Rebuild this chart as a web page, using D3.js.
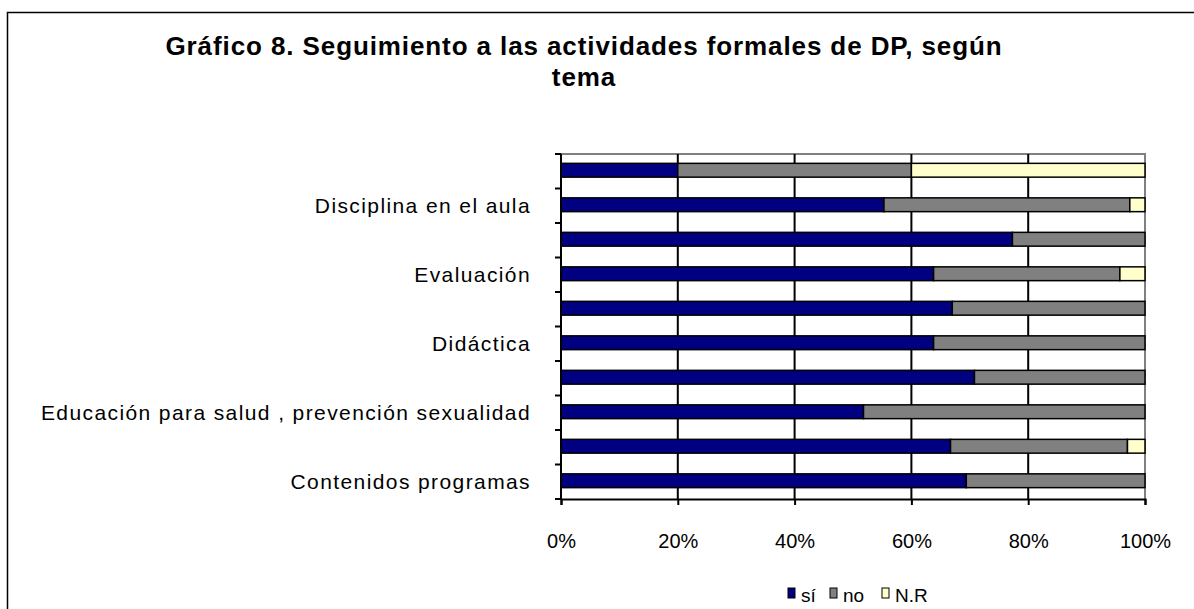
<!DOCTYPE html>
<html><head><meta charset="utf-8">
<script src="https://cdn.jsdelivr.net/npm/d3@7"></script>
<style>body{margin:0;background:#fff;} text{font-family:"Liberation Sans",Arial,sans-serif;}</style>
</head><body>
<svg id="chart" width="1194" height="609"></svg>
<script>
// Categories top to bottom (only every other one is labelled in the original)
const categories = ["", "Disciplina en el aula", "", "Evaluación", "", "Didáctica", "", "Educación para salud , prevención sexualidad", "", "Contenidos programas"];
const siValues = [20.0, 55.3, 77.3, 63.8, 67.0, 63.8, 70.8, 51.8, 66.7, 69.4];
const noValues = [40.0, 42.1, 22.7, 31.9, 33.0, 36.2, 29.2, 48.2, 30.3, 30.6];
const nrValues = [40.0, 2.6, 0.0, 4.3, 0.0, 0.0, 0.0, 0.0, 3.0, 0.0];
const seriesNames = ["sí", "no", "N.R"];
const seriesColors = ["#000080", "#808080", "#FFFFCC"];
const xTicks = [0, 20, 40, 60, 80, 100];
const titleLines = ["Gráfico 8. Seguimiento a las actividades formales de DP, según", "tema"];

(function () {
const svg = d3.select("#chart");
// outer frame
svg.append("rect").attr("x", 7.5).attr("y", 12.5).attr("width", 1300).attr("height", 700)
  .attr("fill", "none").attr("stroke", "#000").attr("stroke-width", 1.5);

const pL = 561, pR = 1145, pT = 154, pB = 499;
const x = d3.scaleLinear().domain([0, 100]).range([pL, pR]);
const y = d3.scaleBand().domain(d3.range(categories.length)).range([pT, pB]).paddingInner(0.6).paddingOuter(0.3);

// plot area border (gray top/right)
svg.append("path").attr("d", `M${pL},${pT}H${pR}V${pB}`).attr("fill", "none")
  .attr("stroke", "#808080").attr("stroke-width", 2);

// gridlines
svg.append("g").selectAll("line").data(xTicks.filter(t => t > 0 && t < 100)).join("line")
  .attr("x1", d => x(d)).attr("x2", d => x(d)).attr("y1", pT).attr("y2", pB)
  .attr("stroke", "#000").attr("stroke-width", 2);

// stacked data
const rows = categories.map((c, i) => ({i, "sí": siValues[i], "no": noValues[i], "N.R": nrValues[i]}));
const stack = d3.stack().keys(seriesNames)(rows);
const g = svg.append("g");
stack.forEach((layer, si) => {
  g.selectAll(null).data(layer.filter(d => d[1] - d[0] > 0)).join("rect")
    .attr("x", d => x(d[0])).attr("width", d => x(d[1]) - x(d[0]))
    .attr("y", d => y(d.data.i) - 1).attr("height", y.bandwidth())
    .attr("fill", seriesColors[si]).attr("stroke", "#000").attr("stroke-width", 1.5);
});

// x axis
const xAxis = svg.append("g").attr("transform", `translate(0,${pB})`)
  .call(d3.axisBottom(x).tickValues(xTicks).tickFormat(d => d + "%").tickSize(6));
xAxis.select(".domain").attr("stroke", "#000").attr("stroke-width", 2);
xAxis.selectAll(".tick line").attr("stroke", "#000").attr("stroke-width", 2);
xAxis.selectAll("text").attr("y", 49).attr("dy", null).attr("font-size", 20).attr("fill", "#000")
  .style("font-family", "Liberation Sans, Arial, sans-serif");

// y axis
const yStep = (pB - pT) / categories.length;
const yAxisG = svg.append("g");
yAxisG.append("line").attr("x1", pL).attr("x2", pL).attr("y1", pT).attr("y2", pB).attr("stroke", "#000").attr("stroke-width", 2);
yAxisG.selectAll("line.tk").data(d3.range(categories.length + 1)).join("line").attr("class", "tk")
  .attr("x1", pL - 6).attr("x2", pL).attr("y1", d => pT + d * yStep).attr("y2", d => pT + d * yStep)
  .attr("stroke", "#000").attr("stroke-width", 2);
yAxisG.selectAll("text").data(categories).join("text")
  .attr("x", 531).attr("y", (d, i) => pT + (i + 0.5) * yStep).attr("dy", "0.35em")
  .attr("text-anchor", "end").attr("font-size", 21).attr("letter-spacing", 1.4).attr("fill", "#000").text(d => d);

// title
svg.append("g").selectAll("text").data(titleLines).join("text")
  .attr("x", 584).attr("y", (d, i) => 55 + i * 31).attr("text-anchor", "middle")
  .attr("font-size", 26).attr("letter-spacing", 0.9).attr("font-weight", "bold").attr("fill", "#000").text(d => d);

// legend
const legendX = [788, 830, 882];
const lg = svg.append("g");
seriesNames.forEach((n, i) => {
  lg.append("rect").attr("x", legendX[i]).attr("y", 588).attr("width", 7).attr("height", 10)
    .attr("fill", seriesColors[i]).attr("stroke", "#000").attr("stroke-width", 1);
  lg.append("text").attr("x", legendX[i] + 13).attr("y", 601.5).attr("font-size", 19).attr("fill", "#000").text(n);
});
})();
</script>
</body></html>
